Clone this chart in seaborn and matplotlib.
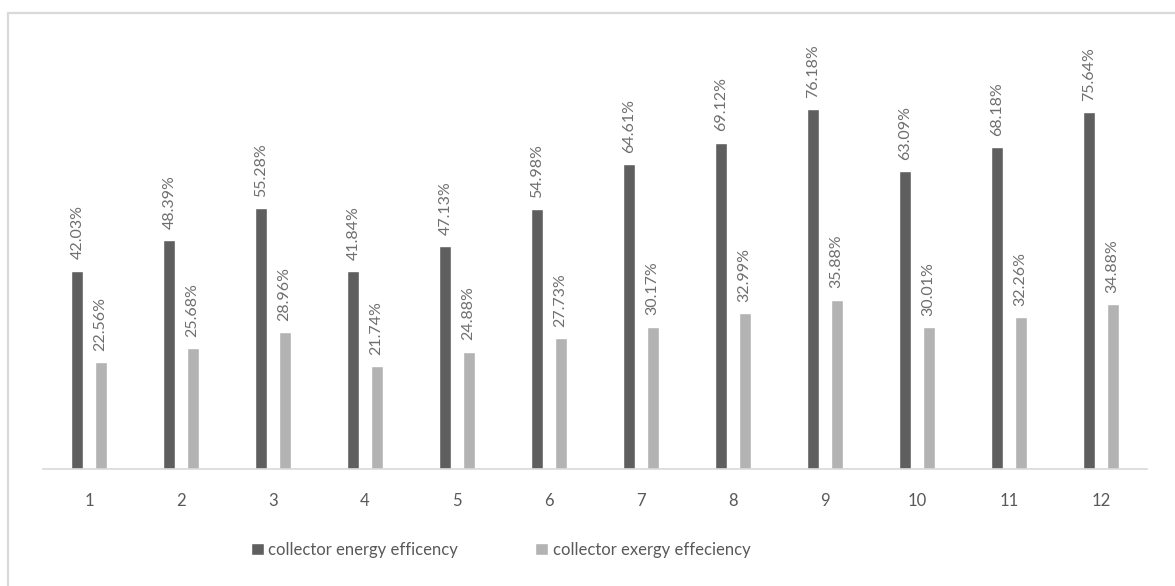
import matplotlib
matplotlib.use("Agg")
import matplotlib.pyplot as plt
from matplotlib.patches import Rectangle
import pandas as pd
import seaborn as sns

# Monthly collector performance (percent)
months = ["1", "2", "3", "4", "5", "6", "7", "8", "9", "10", "11", "12"]
energy_eff = [42.03, 48.39, 55.28, 41.84, 47.13, 54.98, 64.61, 69.12, 76.18, 63.09, 68.18, 75.64]
exergy_eff = [22.56, 25.68, 28.96, 21.74, 24.88, 27.73, 30.17, 32.99, 35.88, 30.01, 32.26, 34.88]
series_names = ["collector energy efficency", "collector exergy effeciency"]
series_colors = ["#5f5f5f", "#b3b3b3"]

df = pd.DataFrame({
    "month": months * 2,
    "value": energy_eff + exergy_eff,
    "series": [series_names[0]] * len(months) + [series_names[1]] * len(months),
})

sns.set_theme(style="white")
plt.rcParams["font.family"] = ["Lato", "DejaVu Sans"]

W, H = 1175, 586
fig = plt.figure(figsize=(W / 100, H / 100), dpi=100)
ax = fig.add_axes([43 / W, (H - 469) / H, (1147 - 43) / W, (469 - 44) / H])

sns.barplot(data=df, x="month", y="value", hue="series", order=months,
            hue_order=series_names, palette=series_colors, width=0.508, gap=0.49,
            saturation=1, ax=ax, legend=True)

ax.set_ylim(0, 90)
ax.set_xlim(-0.5, len(months) - 0.5)
ax.set_xlabel("")
ax.set_ylabel("")
ax.set_yticks([])
for side in ["top", "right", "left"]:
    ax.spines[side].set_visible(False)
ax.spines["bottom"].set_color("#d9d9d9")
ax.spines["bottom"].set_linewidth(1.2)
ax.tick_params(axis="x", length=0, pad=17, labelsize=12, labelcolor="#595959")

for cont in ax.containers:
    ax.bar_label(cont, labels=[f"{v:.2f}%" for v in cont.datavalues],
                 rotation=90, padding=8, fontsize=11.5, color="#6f6f6f")

handles, labels = ax.get_legend_handles_labels()
ax.get_legend().remove()
fig.legend(handles, labels, loc="center left", bbox_to_anchor=(236 / W, (H - 550) / H),
           ncol=2, frameon=False, fontsize=12, labelcolor="#595959",
           handlelength=0.75, handleheight=0.75, handletextpad=0.3, columnspacing=4.6)

# open frame line along top and left
fig.patches.append(Rectangle((8 / W, -0.2), 1.2, (H - 13) / H + 0.2,
                             transform=fig.transFigure, fill=False,
                             edgecolor="#d9d9d9", linewidth=1.6))

fig.savefig("out.png", dpi=100)
